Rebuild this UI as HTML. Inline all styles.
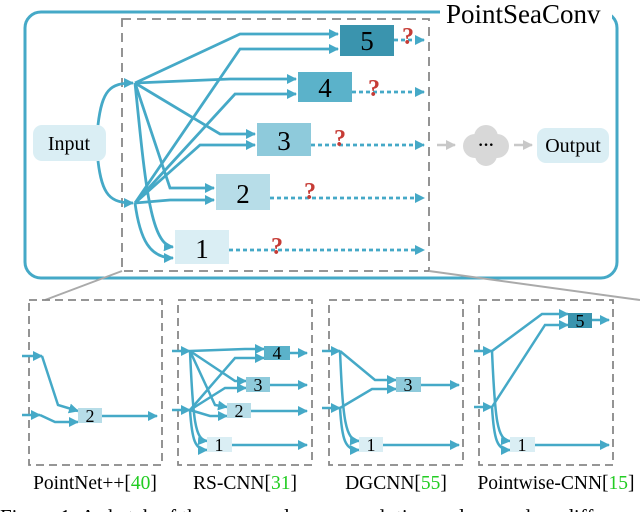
<!DOCTYPE html>
<html><head><meta charset="utf-8"><style>
html,body{margin:0;padding:0;background:#fff;}
svg{display:block;font-family:"Liberation Serif",serif;}
</style></head><body>
<svg width="640" height="512" viewBox="0 0 640 512" xmlns="http://www.w3.org/2000/svg">
<defs>
<marker id="a" markerWidth="10" markerHeight="10" refX="9" refY="5" orient="auto" markerUnits="userSpaceOnUse"><path d="M0,0 L10,5 L0,10 z" fill="#45a9c7"/></marker>
<marker id="g" markerWidth="10" markerHeight="10" refX="9" refY="5" orient="auto" markerUnits="userSpaceOnUse"><path d="M0,0 L10,5 L0,10 z" fill="#c8c8c8"/></marker>
</defs>
<rect x="25" y="12" width="592" height="266" rx="16" fill="none" stroke="#45a9c7" stroke-width="3"/>
<rect x="440" y="0" width="172" height="26" fill="#fff"/>
<text x="446" y="23" font-size="27">PointSeaConv</text>
<rect x="122" y="19" width="307" height="252" fill="none" stroke="#888" stroke-width="1.8" stroke-dasharray="9,6"/>
<path d="M122,271 L45,300" stroke="#aaa" stroke-width="2"/>
<path d="M429,271 L640,300" stroke="#aaa" stroke-width="2"/>
<rect x="33" y="125" width="73" height="36" rx="9" fill="#daeef4"/>
<text x="69" y="150" font-size="20" text-anchor="middle">Input</text>
<rect x="537" y="128" width="72" height="35" rx="9" fill="#daeef4"/>
<text x="573" y="152" font-size="20" text-anchor="middle">Output</text>
<g fill="#d8d8d8"><circle cx="475" cy="146" r="12"/><circle cx="497" cy="146" r="12"/><circle cx="486" cy="137" r="12"/><circle cx="486" cy="155" r="11"/></g>
<text x="486" y="150" font-size="16" text-anchor="middle" font-weight="bold">···</text>
<path d="M437,145 L455,145" stroke="#c8c8c8" stroke-width="2.5" marker-end="url(#g)"/>
<path d="M514,145 L532,145" stroke="#c8c8c8" stroke-width="2.5" marker-end="url(#g)"/>
<g fill="none" stroke="#45a9c7" stroke-width="2.8">
<path d="M98,125 C102,90 110,83 133,83" marker-end="url(#a)"/>
<path d="M98,161 C102,195 110,203 133,203" marker-end="url(#a)"/>
<path d="M135,83 L240,34 L338,34" marker-end="url(#a)"/>
<path d="M135,203 L240,49 L338,49" marker-end="url(#a)"/>
<path d="M135,83 L230,79 L296,79" marker-end="url(#a)"/>
<path d="M135,203 L235,94 L296,94" marker-end="url(#a)"/>
<path d="M135,83 L220,134 L255,134" marker-end="url(#a)"/>
<path d="M135,203 L200,145 L255,145" marker-end="url(#a)"/>
<path d="M135,83 L170,188 L214,188" marker-end="url(#a)"/>
<path d="M135,203 L170,200 L214,200" marker-end="url(#a)"/>
<path d="M135,83 C145,180 150,245 173,247" marker-end="url(#a)"/>
<path d="M135,203 C140,240 150,258 173,258" marker-end="url(#a)"/>
</g>
<g fill="none" stroke="#45a9c7" stroke-width="2.8" stroke-dasharray="4,3">
<path d="M394,40 L424,40" marker-end="url(#a)"/>
<path d="M352,92 L424,92" marker-end="url(#a)"/>
<path d="M311,145 L424,145" marker-end="url(#a)"/>
<path d="M270,198 L424,198" marker-end="url(#a)"/>
<path d="M229,250 L424,250" marker-end="url(#a)"/>
</g>
<rect x="340" y="25" width="54" height="31" fill="#3a94ae"/><text x="367" y="50" font-size="27" text-anchor="middle">5</text>
<rect x="298" y="72" width="54" height="30" fill="#5bb2ca"/><text x="325" y="97" font-size="27" text-anchor="middle">4</text>
<rect x="257" y="123" width="54" height="33" fill="#8ecadb"/><text x="284" y="150" font-size="27" text-anchor="middle">3</text>
<rect x="216" y="174" width="54" height="36" fill="#b7dde8"/><text x="243" y="203" font-size="27" text-anchor="middle">2</text>
<rect x="175" y="230" width="54" height="34" fill="#daeef4"/><text x="202" y="258" font-size="27" text-anchor="middle">1</text>
<g fill="#c63b35" font-size="24" font-weight="bold" text-anchor="middle">
<text x="408" y="44">?</text><text x="374" y="96">?</text><text x="340" y="146">?</text><text x="310" y="199">?</text><text x="277" y="254">?</text>
</g>
<g fill="none" stroke="#888" stroke-width="1.8" stroke-dasharray="8,5">
<rect x="29" y="300" width="133" height="165"/>
<rect x="178" y="300" width="134" height="165"/>
<rect x="329" y="300" width="134" height="165"/>
<rect x="479" y="300" width="134" height="165"/>
</g>
<g fill="none" stroke="#45a9c7" stroke-width="2.5">
<path d="M22,356 L42,356" marker-end="url(#a)"/>
<path d="M22,415 L40,415" marker-end="url(#a)"/>
<path d="M42,356 L58,405 L78,411" marker-end="url(#a)"/>
<path d="M40,415 L55,422 L78,422" marker-end="url(#a)"/>
<path d="M102,416 L157,416" marker-end="url(#a)"/>
<path d="M172,351 L190,351" marker-end="url(#a)"/>
<path d="M172,410 L190,410" marker-end="url(#a)"/>
<path d="M190,351 L245,349 L264,349" marker-end="url(#a)"/>
<path d="M190,410 L235,358 L264,358" marker-end="url(#a)"/>
<path d="M190,351 L235,381 L246,381" marker-end="url(#a)"/>
<path d="M190,410 L225,388 L246,388" marker-end="url(#a)"/>
<path d="M190,351 L215,405 L227,407" marker-end="url(#a)"/>
<path d="M190,410 L210,416 L227,416" marker-end="url(#a)"/>
<path d="M190,351 C193,420 195,440 207,441" marker-end="url(#a)"/>
<path d="M190,410 C192,440 195,450 207,450" marker-end="url(#a)"/>
<path d="M290,353 L307,353" marker-end="url(#a)"/><path d="M270,385 L307,385" marker-end="url(#a)"/>
<path d="M251,411 L307,411" marker-end="url(#a)"/><path d="M232,445 L307,445" marker-end="url(#a)"/>
<path d="M322,351 L340,351" marker-end="url(#a)"/>
<path d="M322,408 L340,408" marker-end="url(#a)"/>
<path d="M340,351 L375,380 L396,380" marker-end="url(#a)"/>
<path d="M340,408 L372,389 L396,389" marker-end="url(#a)"/>
<path d="M340,351 C343,420 345,440 359,441" marker-end="url(#a)"/>
<path d="M340,408 C342,440 345,450 359,450" marker-end="url(#a)"/>
<path d="M421,385 L459,385" marker-end="url(#a)"/><path d="M383,445 L459,445" marker-end="url(#a)"/>
<path d="M474,351 L492,351" marker-end="url(#a)"/>
<path d="M474,407 L492,407" marker-end="url(#a)"/>
<path d="M492,351 L542,314 L568,314" marker-end="url(#a)"/>
<path d="M492,407 L545,325 L568,325" marker-end="url(#a)"/>
<path d="M492,351 C495,420 497,440 510,441" marker-end="url(#a)"/>
<path d="M492,407 C494,440 497,450 510,450" marker-end="url(#a)"/>
<path d="M592,320 L609,320" marker-end="url(#a)"/><path d="M535,445 L609,445" marker-end="url(#a)"/>
</g>
<g font-size="18" text-anchor="middle">
<rect x="78" y="408" width="24" height="15" fill="#b7dde8"/><text x="90" y="422">2</text>
<rect x="264" y="346" width="26" height="14" fill="#5bb2ca"/><text x="277" y="359">4</text>
<rect x="246" y="377" width="24" height="15" fill="#8ecadb"/><text x="258" y="391">3</text>
<rect x="227" y="403" width="24" height="15" fill="#b7dde8"/><text x="239" y="417">2</text>
<rect x="207" y="437" width="25" height="15" fill="#daeef4"/><text x="219" y="451">1</text>
<rect x="396" y="377" width="25" height="15" fill="#8ecadb"/><text x="408" y="391">3</text>
<rect x="359" y="437" width="24" height="15" fill="#daeef4"/><text x="371" y="451">1</text>
<rect x="568" y="313" width="24" height="15" fill="#3a94ae"/><text x="580" y="327">5</text>
<rect x="510" y="437" width="25" height="15" fill="#daeef4"/><text x="522" y="451">1</text>
</g>
<g font-size="19.5" text-anchor="middle">
<text x="95" y="489">PointNet++[<tspan fill="#22cc22">40</tspan>]</text>
<text x="245" y="489">RS-CNN[<tspan fill="#22cc22">31</tspan>]</text>
<text x="396" y="489">DGCNN[<tspan fill="#22cc22">55</tspan>]</text>
<text x="556" y="489">Pointwise-CNN[<tspan fill="#22cc22">15</tspan>]</text>
</g>
<text x="0" y="524" font-size="21">Figure 1: A sketch of the proposed sea-convolution and exemplary diff</text>
</svg>
</body></html>
